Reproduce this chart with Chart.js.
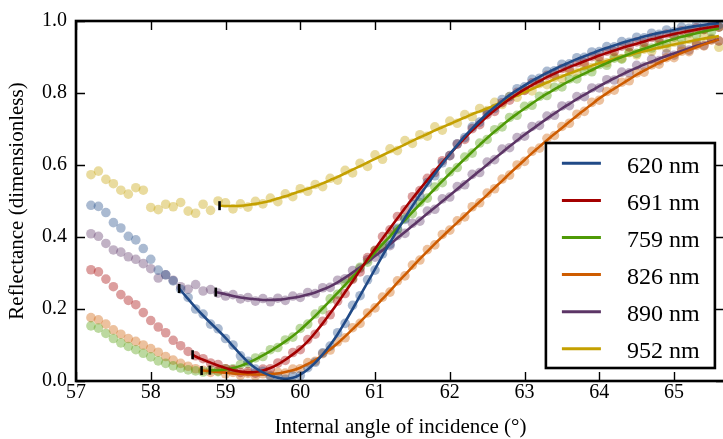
<!DOCTYPE html>
<html><head><meta charset="utf-8">
<script src="https://cdn.jsdelivr.net/npm/chart.js@4.4.1/dist/chart.umd.min.js"></script>
<style>
html,body{margin:0;padding:0;overflow:hidden;background:#fff;width:723px;height:439px}
#wrap{position:absolute;left:0;top:0;width:732px;height:439px}
</style>
</head><body><div id="wrap"><canvas id="c" width="732" height="439"></canvas></div>
<script>
const FONT = "'Liberation Serif', 'DejaVu Serif', serif";

const labels = ['620 nm','691 nm','759 nm','826 nm','890 nm','952 nm'];
const lineColors = ['#204a87','#a40000','#4e9a06','#ce5c00','#5c3566','#c4a000'];
const dotColors = ['rgba(32,74,135,0.38)','rgba(164,0,0,0.38)','rgba(78,154,6,0.38)','rgba(206,92,0,0.38)','rgba(92,53,102,0.38)','rgba(196,160,0,0.38)'];

const xTicks = [57,58,59,60,61,62,63,64,65];
const yTicks = [0,0.2,0.4,0.6,0.8,1.0];

const angles = [
57.2,57.3,57.4,57.5,57.6,57.7,57.8,57.9,58.0,58.1,
58.2,58.3,58.4,58.5,58.6,58.7,58.8,58.9,59.0,59.1,
59.2,59.3,59.4,59.5,59.6,59.7,59.8,59.9,60.0,60.1,
60.2,60.3,60.4,60.5,60.6,60.7,60.8,60.9,61.0,61.1,
61.2,61.3,61.4,61.5,61.6,61.7,61.8,61.9,62.0,62.1,
62.2,62.3,62.4,62.5,62.6,62.7,62.8,62.9,63.0,63.1,
63.2,63.3,63.4,63.5,63.6,63.7,63.8,63.9,64.0,64.1,
64.2,64.3,64.4,64.5,64.6,64.7,64.8,64.9,65.0,65.1,
65.2,65.3,65.4,65.5,65.6];

// measured reflectance (scatter), one value per angle
const meas620 = [
0.488,0.485,0.468,0.440,0.425,0.402,0.392,0.368,0.338,0.308,
0.295,0.278,0.255,0.232,0.200,0.186,0.158,0.145,0.118,0.100,
0.070,0.055,0.033,0.027,0.013,0.012,0.005,0.014,0.015,0.037,
0.052,0.078,0.097,0.134,0.160,0.210,0.237,0.281,0.308,0.353,
0.380,0.424,0.449,0.491,0.513,0.551,0.570,0.606,0.626,0.659,
0.676,0.706,0.719,0.747,0.757,0.782,0.790,0.812,0.817,0.838,
0.841,0.860,0.862,0.880,0.881,0.898,0.899,0.914,0.915,0.929,
0.928,0.943,0.941,0.955,0.953,0.966,0.963,0.975,0.971,0.983,
0.980,0.990,0.985,0.996,0.990];
const meas691 = [
0.309,0.303,0.283,0.262,0.240,0.224,0.212,0.190,0.168,0.150,
0.134,0.113,0.098,0.082,0.070,0.062,0.050,0.046,0.034,0.031,
0.024,0.026,0.022,0.033,0.034,0.050,0.057,0.079,0.087,0.115,
0.130,0.166,0.184,0.222,0.243,0.282,0.303,0.343,0.363,0.401,
0.420,0.457,0.476,0.512,0.529,0.563,0.579,0.612,0.626,0.658,
0.671,0.701,0.712,0.740,0.749,0.773,0.780,0.802,0.807,0.828,
0.831,0.849,0.851,0.868,0.868,0.884,0.885,0.901,0.900,0.916,
0.915,0.930,0.928,0.942,0.940,0.954,0.951,0.964,0.961,0.973,
0.969,0.981,0.977,0.988,0.983];
const meas759 = [
0.153,0.147,0.132,0.118,0.106,0.096,0.087,0.077,0.067,0.056,
0.049,0.042,0.036,0.031,0.028,0.025,0.031,0.026,0.034,0.034,
0.046,0.048,0.064,0.068,0.087,0.093,0.114,0.122,0.146,0.158,
0.186,0.198,0.228,0.241,0.272,0.285,0.316,0.330,0.362,0.376,
0.407,0.421,0.452,0.465,0.496,0.508,0.539,0.551,0.581,0.593,
0.622,0.633,0.661,0.671,0.698,0.706,0.732,0.738,0.763,0.766,
0.791,0.793,0.816,0.817,0.839,0.839,0.860,0.859,0.879,0.877,
0.897,0.894,0.913,0.910,0.928,0.925,0.941,0.937,0.955,0.951,
0.966,0.961,0.976,0.970,0.983];
const meas826 = [
0.176,0.170,0.158,0.142,0.130,0.118,0.110,0.100,0.090,0.080,
0.068,0.058,0.049,0.041,0.034,0.030,0.024,0.028,0.020,0.024,
0.016,0.021,0.014,0.020,0.016,0.024,0.022,0.033,0.034,0.051,
0.055,0.076,0.086,0.109,0.120,0.148,0.160,0.189,0.203,0.233,
0.247,0.278,0.292,0.322,0.336,0.365,0.378,0.407,0.419,0.445,
0.456,0.484,0.495,0.522,0.534,0.561,0.572,0.600,0.610,0.638,
0.647,0.674,0.682,0.707,0.716,0.741,0.749,0.774,0.780,0.804,
0.808,0.830,0.834,0.856,0.858,0.878,0.880,0.898,0.898,0.916,
0.915,0.932,0.931,0.947,0.945];
const meas890 = [
0.409,0.402,0.382,0.364,0.358,0.345,0.338,0.326,0.312,0.286,
0.295,0.280,0.262,0.255,0.268,0.250,0.254,0.244,0.236,0.240,
0.228,0.232,0.222,0.229,0.220,0.230,0.224,0.236,0.232,0.246,
0.243,0.259,0.260,0.280,0.284,0.307,0.313,0.337,0.344,0.370,
0.376,0.404,0.410,0.438,0.444,0.472,0.477,0.506,0.511,0.540,
0.545,0.574,0.579,0.608,0.615,0.644,0.648,0.676,0.680,0.707,
0.710,0.736,0.738,0.764,0.765,0.790,0.790,0.814,0.814,0.837,
0.836,0.858,0.856,0.877,0.874,0.894,0.890,0.909,0.905,0.923,
0.919,0.937,0.932,0.949,0.944];
const meas952 = [
0.573,0.583,0.560,0.548,0.530,0.519,0.537,0.530,0.482,0.476,
0.491,0.484,0.496,0.472,0.466,0.491,0.474,0.500,0.495,0.478,
0.492,0.483,0.499,0.492,0.508,0.498,0.520,0.512,0.534,0.527,
0.546,0.540,0.563,0.558,0.585,0.578,0.605,0.596,0.628,0.616,
0.645,0.640,0.668,0.660,0.684,0.680,0.706,0.697,0.722,0.716,
0.740,0.734,0.757,0.751,0.774,0.768,0.790,0.788,0.808,0.806,
0.826,0.823,0.843,0.840,0.860,0.856,0.875,0.871,0.889,0.884,
0.901,0.896,0.912,0.906,0.922,0.916,0.932,0.925,0.941,0.933,
0.949,0.941,0.957,0.952,0.927];

// fit start point [angle, reflectance]; fit values follow at the grid angles beyond it
const start620 = [58.38, 0.257];
const start691 = [58.56, 0.073];
const start759 = [58.79, 0.030];
const start826 = [58.68, 0.029];
const start890 = [58.87, 0.247];
const start952 = [58.92, 0.487];

const fit620 = [
0.252,0.228,0.204,0.182,0.161,0.141,
0.120,0.097,0.074,0.053,0.036,0.024,0.015,0.009,0.006,0.009,
0.018,0.032,0.051,0.074,0.100,0.130,0.164,0.200,0.237,0.274,
0.311,0.348,0.384,0.419,0.453,0.486,0.517,0.546,0.575,0.603,
0.630,0.655,0.680,0.702,0.723,0.743,0.761,0.778,0.794,0.808,
0.821,0.834,0.845,0.856,0.866,0.876,0.885,0.894,0.902,0.910,
0.918,0.925,0.932,0.939,0.945,0.951,0.957,0.962,0.967,0.971,
0.975,0.979,0.983,0.986,0.989,0.992,0.994];
const fit691 = [
0.068,0.059,0.051,0.043,
0.036,0.030,0.026,0.024,0.025,0.029,0.036,0.046,0.059,0.074,
0.090,0.110,0.134,0.160,0.188,0.217,0.247,0.277,0.308,0.338,
0.367,0.396,0.424,0.452,0.480,0.507,0.533,0.558,0.583,0.607,
0.630,0.653,0.675,0.696,0.716,0.735,0.752,0.768,0.783,0.797,
0.810,0.822,0.833,0.844,0.854,0.863,0.872,0.880,0.888,0.896,
0.904,0.911,0.918,0.925,0.931,0.937,0.943,0.949,0.954,0.959,
0.964,0.968,0.972,0.976,0.980,0.983,0.986];
const fit759 = [
0.030,0.030,
0.032,0.036,0.042,0.050,0.060,0.071,0.083,0.096,0.110,0.125,
0.142,0.161,0.181,0.202,0.223,0.245,0.267,0.289,0.311,0.334,
0.357,0.380,0.402,0.425,0.447,0.469,0.491,0.512,0.534,0.555,
0.576,0.597,0.617,0.637,0.656,0.675,0.693,0.710,0.727,0.742,
0.757,0.771,0.785,0.798,0.810,0.822,0.833,0.844,0.854,0.864,
0.874,0.883,0.892,0.900,0.908,0.916,0.923,0.930,0.937,0.944,
0.950,0.956,0.961,0.966,0.971,0.975,0.979];
const fit826 = [
0.029,0.027,0.025,
0.023,0.021,0.020,0.019,0.018,0.018,0.019,0.021,0.025,0.030,
0.037,0.047,0.058,0.072,0.088,0.105,0.124,0.144,0.164,0.185,
0.206,0.228,0.250,0.273,0.295,0.317,0.339,0.360,0.381,0.401,
0.421,0.440,0.459,0.479,0.498,0.517,0.537,0.556,0.576,0.595,
0.614,0.633,0.651,0.669,0.686,0.703,0.720,0.737,0.753,0.769,
0.785,0.799,0.812,0.825,0.838,0.851,0.862,0.873,0.884,0.893,
0.902,0.911,0.919,0.927,0.935,0.942,0.949];
const fit890 = [
0.246,
0.241,0.236,0.232,0.229,0.227,0.225,0.225,0.226,0.228,0.231,
0.235,0.240,0.246,0.254,0.263,0.274,0.287,0.301,0.316,0.331,
0.347,0.363,0.380,0.397,0.414,0.431,0.448,0.465,0.482,0.499,
0.516,0.533,0.550,0.567,0.584,0.601,0.618,0.635,0.652,0.668,
0.684,0.699,0.714,0.729,0.743,0.757,0.770,0.783,0.795,0.807,
0.819,0.830,0.841,0.851,0.861,0.870,0.879,0.887,0.895,0.903,
0.910,0.917,0.924,0.931,0.937,0.943,0.949];
const fit952 = [
0.486,0.486,0.487,0.489,0.492,0.496,0.501,0.507,0.513,0.520,
0.527,0.534,0.541,0.549,0.558,0.567,0.577,0.587,0.597,0.607,
0.617,0.627,0.637,0.647,0.657,0.667,0.677,0.686,0.696,0.705,
0.714,0.723,0.732,0.741,0.749,0.757,0.766,0.775,0.784,0.793,
0.802,0.811,0.820,0.829,0.838,0.846,0.854,0.862,0.869,0.876,
0.883,0.889,0.895,0.901,0.906,0.911,0.916,0.921,0.926,0.930,
0.935,0.939,0.943,0.947,0.951,0.955,0.958];

const measAll = [meas620, meas691, meas759, meas826, meas890, meas952];
const startAll = [start620, start691, start759, start826, start890, start952];
const fitAll = [fit620, fit691, fit759, fit826, fit890, fit952];

const datasets = [];
// markers (top)
datasets.push({
  type: 'scatter', label: 'fit start',
  data: startAll.map(s => ({x: s[0], y: s[1]})),
  pointStyle: 'line', rotation: 90, pointRadius: 4.5, pointHoverRadius: 4.5,
  borderColor: '#000', backgroundColor: '#000', borderWidth: 2.6, order: 0
});
for (let i = 0; i < 6; i++) {
  const st = startAll[i];
  const after = angles.filter(a => a > st[0] + 1e-9);
  const pts = [{x: st[0], y: st[1]}].concat(after.map((a, j) => ({x: a, y: fitAll[i][j]})));
  datasets.push({
    type: 'line', label: labels[i], data: pts,
    borderColor: lineColors[i], backgroundColor: lineColors[i],
    borderWidth: 2.6, pointRadius: 0, fill: false,
    cubicInterpolationMode: 'monotone', order: 1
  });
}
for (let i = 0; i < 6; i++) {
  datasets.push({
    type: 'scatter', label: labels[i] + ' data',
    data: angles.map((a, j) => ({x: a, y: measAll[i][j]})),
    pointRadius: 4.8, pointHoverRadius: 4.8, borderWidth: 0,
    backgroundColor: dotColors[i], order: 2
  });
}

const framePlugin = {
  id: 'frame',
  afterDatasetsDraw(chart) {
    const {ctx, chartArea: ca, scales} = chart;
    ctx.save();
    ctx.strokeStyle = '#000';
    ctx.lineWidth = 1.4;
    const L = 9;
    ctx.beginPath();
    xTicks.forEach(v => {
      const px = Math.round(scales.x.getPixelForValue(v)) + 0.5;
      ctx.moveTo(px, ca.bottom); ctx.lineTo(px, ca.bottom - L);
      ctx.moveTo(px, ca.top); ctx.lineTo(px, ca.top + L);
    });
    yTicks.forEach(v => {
      const py = Math.round(scales.y.getPixelForValue(v)) + 0.5;
      ctx.moveTo(ca.left, py); ctx.lineTo(ca.left + L, py);
      ctx.moveTo(ca.right, py); ctx.lineTo(ca.right - L, py);
    });
    ctx.stroke();
    ctx.lineWidth = 2.6;
    ctx.strokeRect(ca.left, ca.top, ca.right - ca.left, ca.bottom - ca.top);
    ctx.restore();
  }
};

const legendPlugin = {
  id: 'boxLegend',
  afterDraw(chart) {
    const {ctx, chartArea: ca} = chart;
    const w = 169, h = 225;
    const right = ca.right - 10, bottom = ca.bottom - 13;
    const left = right - w, top = bottom - h;
    ctx.save();
    ctx.fillStyle = '#fff';
    ctx.fillRect(left, top, w, h);
    ctx.strokeStyle = '#000';
    ctx.lineWidth = 2.6;
    ctx.strokeRect(left, top, w, h);
    ctx.font = "24px " + FONT;
    ctx.fillStyle = '#000';
    ctx.textBaseline = 'alphabetic';
    ctx.textAlign = 'left';
    for (let i = 0; i < labels.length; i++) {
      const ly = top + 20.3 + i * 37.1;
      ctx.strokeStyle = lineColors[i];
      ctx.lineWidth = 3;
      ctx.beginPath();
      ctx.moveTo(left + 16, ly); ctx.lineTo(left + 55, ly);
      ctx.stroke();
      ctx.fillText(labels[i], left + 81, ly + 9.5);
    }
    ctx.restore();
  }
};

new Chart(document.getElementById('c'), {
  type: 'scatter',
  data: { datasets },
  options: {
    responsive: false, animation: false, events: [],
    devicePixelRatio: 1,
    layout: { padding: { top: 16, right: 5, bottom: 0, left: 0 } },
    plugins: { legend: { display: false }, tooltip: { enabled: false } },
    scales: {
      x: {
        type: 'linear', min: 57, max: 65.68,
        afterBuildTicks: s => { s.ticks = xTicks.map(v => ({value: v})); },
        afterFit: s => { s.height = 58; },
        grid: { display: false, drawTicks: false },
        border: { display: false },
        ticks: { color: '#000', padding: 0, font: { family: FONT, size: 20 }, callback: v => String(v) },
        title: { display: true, text: 'Internal angle of incidence (°)', color: '#000',
                 font: { family: FONT, size: 21, lineHeight: 1.05 }, padding: { top: 0, bottom: 0 } }
      },
      y: {
        type: 'linear', min: 0, max: 1,
        afterBuildTicks: s => { s.ticks = yTicks.map(v => ({value: v})); },
        afterFit: s => { s.width = 76; },
        grid: { display: false, drawTicks: false },
        border: { display: false },
        ticks: { color: '#000', padding: 9, font: { family: FONT, size: 20 }, callback: v => Number(v).toFixed(1) },
        title: { display: true, text: 'Reflectance (dimensionless)', color: '#000',
                 font: { family: FONT, size: 21 }, padding: { top: 5, bottom: 0 } }
      }
    }
  },
  plugins: [framePlugin, legendPlugin]
});
</script>
</body></html>
